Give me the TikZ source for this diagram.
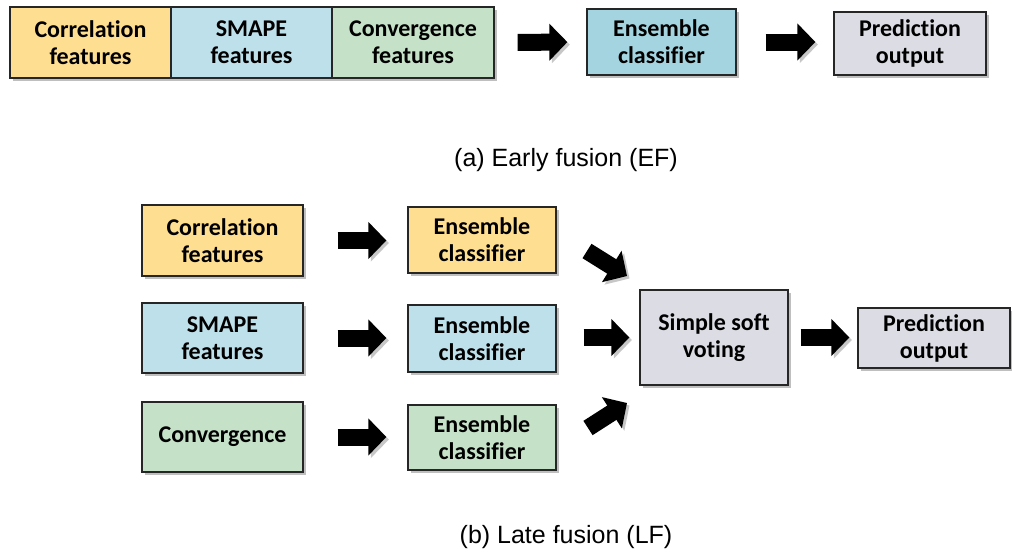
\documentclass[tikz,border=0pt]{standalone}
\usepackage{fontspec}
\setmainfont[Ligatures=CommonOff]{Carlito}
\newfontfamily\capfont{Liberation Sans}
\usetikzlibrary{arrows.meta,shadows}
\definecolor{cyel}{RGB}{254,222,145}
\definecolor{cblu}{RGB}{190,224,234}
\definecolor{cteal}{RGB}{163,212,224}
\definecolor{cgrn}{RGB}{197,226,200}
\definecolor{cgry}{RGB}{220,221,228}
\tikzset{
  boxst/.style={draw=black!85, line width=1.3pt, inner sep=0pt, align=center,
    font=\fontsize{24}{27}\selectfont\bfseries,
    drop shadow={shadow xshift=3pt, shadow yshift=-3pt, opacity=0.25, fill=black}},
  fatarrow/.style={line width=17pt, -{Triangle[length=18pt,width=36pt]}, black,
    preaction={draw=black!22, transform canvas={shift={(2.5pt,-2.5pt)}}}},
  capst/.style={font=\capfont\fontsize{25}{30}\selectfont}
}
\begin{document}
\begin{tikzpicture}[x=1pt,y=-1pt]
\useasboundingbox (0,0) rectangle (1012,555);
% early fusion
\node[boxst, fill=cyel, minimum width=161pt, minimum height=71pt] (corr0) at (90.5,42.5) {Correlation\\features};
\node[boxst, fill=cblu, minimum width=161pt, minimum height=71pt] (smape0) at (251.5,42.5) {SMAPE\\features};
\node[boxst, fill=cgrn, minimum width=162pt, minimum height=71pt] (conv0) at (413,42.5) {Convergence\\features};
\node[boxst, fill=cteal, minimum width=149pt, minimum height=66pt] (ens0) at (661.5,42) {Ensemble\\classifier};
\node[boxst, fill=cgry, minimum width=152pt, minimum height=63pt] (pred0) at (910,43.5) {Prediction\\output};
\draw[fatarrow, shorten <=23pt, shorten >=19pt] (conv0.east) -- (ens0.west);
\draw[fatarrow, shorten <=29pt, shorten >=18pt] (ens0.east) -- (pred0.west|-ens0.east);
\node[capst] (capa) at (566,160) {(a) Early fusion (EF)};
% late fusion
\node[boxst, fill=cyel, minimum width=161pt, minimum height=71pt] (corr1) at (222.5,240.5) {Correlation\\features};
\node[boxst, fill=cyel, minimum width=148pt, minimum height=66pt] (ens1) at (482,240) {Ensemble\\classifier};
\node[boxst, fill=cblu, minimum width=161pt, minimum height=70pt] (smape1) at (222.5,338) {SMAPE\\features};
\node[boxst, fill=cblu, minimum width=148pt, minimum height=67pt] (ens2) at (482,338.5) {Ensemble\\classifier};
\node[boxst, fill=cgrn, minimum width=161pt, minimum height=70pt] (conv1) at (222.5,437) {Convergence};
\node[boxst, fill=cgrn, minimum width=148pt, minimum height=65pt] (ens3) at (482,437.5) {Ensemble\\classifier};
\node[boxst, fill=cgry, minimum width=148pt, minimum height=95pt] (vote) at (714,337.5) {Simple soft\\voting};
\node[boxst, fill=cgry, minimum width=152pt, minimum height=60pt] (pred1) at (934,338) {Prediction\\output};
\draw[fatarrow, shorten <=34pt, shorten >=21pt] (corr1.east) -- (ens1.west|-corr1.east);
\draw[fatarrow, shorten <=34pt, shorten >=21pt] (smape1.east) -- (ens2.west|-smape1.east);
\draw[fatarrow, shorten <=34pt, shorten >=21pt] (conv1.east) -- (ens3.west|-conv1.east);
\draw[fatarrow, shorten <=27pt, shorten >=10pt] (ens2.east|-vote.west) -- (vote.west);
\draw[fatarrow, shorten <=12pt, shorten >=8pt] (vote.east) -- (pred1.west|-vote.east);
\coordinate (d1s) at (587,251);
\coordinate (d1e) at (627,276);
\coordinate (d3s) at (588,428);
\coordinate (d3e) at (627,403);
\draw[fatarrow] (d1s) -- (d1e);
\draw[fatarrow] (d3s) -- (d3e);
\node[capst] (capb) at (566,537) {(b) Late fusion (LF)};
\end{tikzpicture}
\end{document}
